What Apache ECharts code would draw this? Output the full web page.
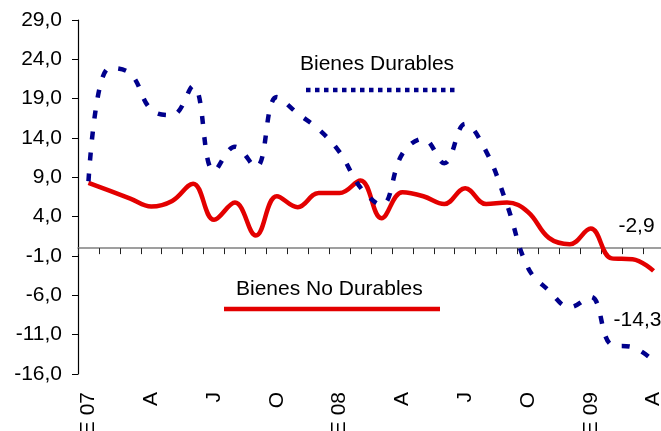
<!DOCTYPE html>
<html>
<head>
<meta charset="utf-8">
<script src="https://cdn.jsdelivr.net/npm/echarts@6/dist/echarts.min.js"></script>
<style>
  html, body { margin: 0; padding: 0; background: #fff; }
  #chart { width: 661px; height: 431px; }
</style>
</head>
<body>
<div id="chart"></div>
<script>
// Monthly categories, Jan 2007 - Apr 2009 (Spanish month initials)
const months = ['E 07', 'F', 'M', 'A', 'M', 'J', 'J', 'A', 'S', 'O', 'N', 'D',
                'E 08', 'F', 'M', 'A', 'M', 'J', 'J', 'A', 'S', 'O', 'N', 'D',
                'E 09', 'F', 'M', 'A'];

// Bienes No Durables (%)
const noDurables = [8.3, 7.3, 6.3, 5.3, 6.0, 8.2, 3.6, 5.8, 1.6, 6.6, 5.2, 7.0,
                    7.0, 8.6, 3.8, 7.1, 6.6, 5.6, 7.6, 5.6, 5.8, 4.6, 1.3, 0.5,
                    2.5, -1.3, -1.4, -2.9];

// Bienes Durables (%)
const durables = [8.5, 22.9, 22.2, 17.6, 16.9, 20.6, 9.8, 12.9, 10.3, 19.2, 17.1, 15.1,
                  12.2, 7.7, 5.5, 12.0, 13.9, 10.8, 15.8, 12.3, 5.5, -2.5, -5.4, -7.5,
                  -6.2, -12.3, -12.6, -14.3];

// Value axis range
const yMin = -16, yMax = 29, yStep = 5;

const FONT = 'Liberation Sans, Arial, sans-serif';
const RED = '#e30000';
const NAVY = '#00008c';

const fmt = v => v.toFixed(1).replace('.', ',');

// Value label at the end of a series, lifted above and left of the last point
function endLabel(offset) {
  return {
    show: true,
    formatter: p => fmt(Array.isArray(p.value) ? p.value[1] : p.value),
    distance: 0,
    offset: offset,
    align: 'center',
    verticalAlign: 'middle',
    fontSize: 21,
    fontFamily: FONT,
    color: '#000'
  };
}

const chart = echarts.init(document.getElementById('chart'), null, { renderer: 'canvas' });

chart.setOption({
  animation: false,
  backgroundColor: '#fff',
  grid: { left: 78, top: 20, right: -3, bottom: 57, containLabel: false, outerBoundsMode: 'none' },
  xAxis: [
    {
      type: 'category',
      data: months,
      boundaryGap: true,
      axisLine: { show: true, onZero: true, lineStyle: { color: '#808080', width: 1.5 } },
      axisTick: { show: true, interval: 0, length: 6, inside: false, lineStyle: { color: '#222', width: 1 } },
      axisLabel: { show: false },
      splitLine: { show: false }
    },
    {
      type: 'category',
      data: months,
      position: 'bottom',
      boundaryGap: true,
      axisLine: { show: false, onZero: false },
      axisTick: { show: false },
      axisLabel: {
        show: true, interval: 2, rotate: 90, margin: 18,
        fontSize: 21, fontFamily: FONT, color: '#000'
      },
      splitLine: { show: false }
    }
  ],
  yAxis: {
    type: 'value',
    min: yMin, max: yMax, interval: yStep,
    axisLine: { show: true, onZero: false, lineStyle: { color: '#000', width: 1.2 } },
    axisTick: { show: true, length: 6, lineStyle: { color: '#000', width: 1 } },
    axisLabel: { margin: 16, fontSize: 21, fontFamily: FONT, color: '#000', formatter: fmt },
    splitLine: { show: false }
  },
  series: [
    {
      name: 'Bienes No Durables',
      type: 'line',
      xAxisIndex: 0,
      data: noDurables,
      smooth: 0.4,
      showSymbol: false,
      symbol: 'none',
      lineStyle: { color: RED, width: 4.5 },
      endLabel: endLabel([-17, -45]),
      z: 2
    },
    {
      name: 'Bienes Durables',
      type: 'line',
      xAxisIndex: 0,
      data: durables,
      smooth: 0.4,
      showSymbol: false,
      symbol: 'none',
      lineStyle: { color: NAVY, width: 4.5, type: [8, 13], cap: 'butt' },
      endLabel: endLabel([-16, -40]),
      z: 3
    }
  ],
  graphic: [
    { type: 'text', left: 300, top: 54,
      style: { text: 'Bienes Durables', font: '21px ' + FONT, fill: '#000' } },
    { type: 'line', shape: { x1: 306, y1: 90, x2: 459, y2: 90 },
      style: { stroke: NAVY, lineWidth: 4.5, lineDash: [4.5, 4.5] } },
    { type: 'text', left: 236, top: 279,
      style: { text: 'Bienes No Durables', font: '21px ' + FONT, fill: '#000' } },
    { type: 'line', shape: { x1: 224, y1: 309, x2: 440, y2: 309 },
      style: { stroke: RED, lineWidth: 4.5 } }
  ]
});
</script>
</body>
</html>
